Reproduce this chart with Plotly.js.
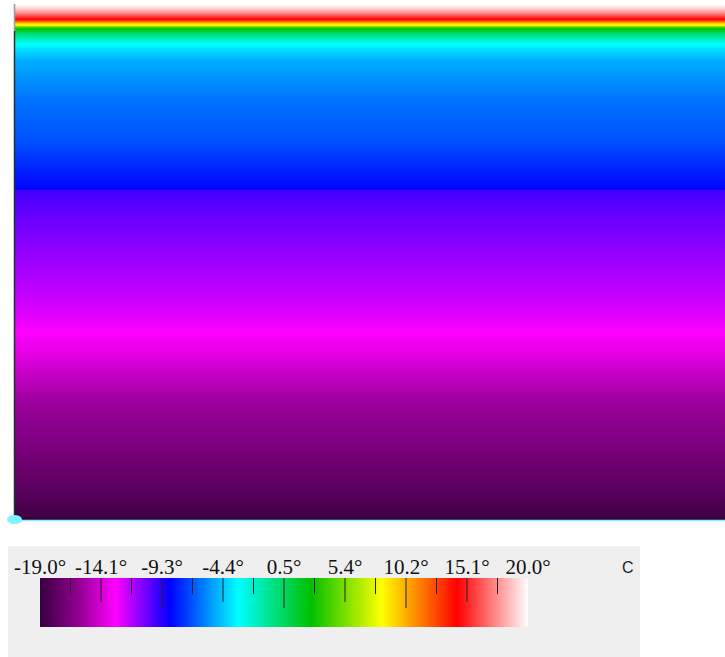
<!DOCTYPE html>
<html>
<head>
<meta charset="utf-8">
<script src="https://cdn.plot.ly/plotly-3.0.1.min.js"></script>
<style>html,body{margin:0;padding:0;background:#fff;}#chart{width:725px;height:657px;}</style>
</head>
<body>
<div id="chart"></div>
<script>
// Temperature profile (depth from top surface, arbitrary units) and temperature in °C
var depth = [0, 4, 8, 12, 15, 17, 19, 20.5, 22, 24, 26, 29, 34, 40, 48, 56, 76, 96, 136, 161, 184.5, 186, 216, 246, 296, 328, 346, 396, 446, 496, 516];
var tempC = [20.0, 19.0, 17.6, 15.8, 14.2, 12.0, 9.5, 8.0, 5.5, 3.0, 1.8, 0.0, -1.6, -3.2, -4.2, -4.9, -5.6, -6.2, -6.9, -7.8, -8.6, -9.8, -10.5, -11.1, -12.1, -13.0, -13.6, -15.6, -16.8, -18.2, -19.0];
var columns = [0, 1];

// Colour scale limits and tick values
var scaleMin = -19.0;
var scaleMax = 20.0;
var tickValues = [-19.0, -14.125, -9.25, -4.375, 0.5, 5.375, 10.25, 15.125, 20.0];
var tickLabels = ["-19.0°", "-14.1°", "-9.3°", "-4.4°", "0.5°", "5.4°", "10.2°", "15.1°", "20.0°"];
var unitLabel = "C";

var colorscale = [
  [0.0, '#3a0040'],
  [0.0769, '#900090'],
  [0.1538, '#ff00ff'],
  [0.2654, '#0000ff'],
  [0.4051, '#00ffff'],
  [0.5538, '#00c000'],
  [0.7000, '#ffff00'],
  [0.8538, '#ff0000'],
  [1.0, '#ffffff']
];

var zMain = tempC.map(function (t) { return columns.map(function () { return t; }); });

var main = {
  type: 'heatmap', x: columns, y: depth, z: zMain,
  zmin: scaleMin, zmax: scaleMax, colorscale: colorscale,
  zsmooth: 'best', showscale: false, hoverinfo: 'skip',
  xaxis: 'x', yaxis: 'y'
};

var bar = {
  type: 'heatmap', x: [scaleMin, scaleMax], y: [0, 1],
  z: [[scaleMin, scaleMax], [scaleMin, scaleMax]],
  zmin: scaleMin, zmax: scaleMax, colorscale: colorscale,
  zsmooth: 'best', showscale: false, hoverinfo: 'skip',
  xaxis: 'x2', yaxis: 'y2'
};

var W = 725, H = 657;
function px(x) { return x / W; }
function py(y) { return (H - y) / H; }

var shapes = [];
// grey colour-bar panel
shapes.push({type: 'rect', xref: 'paper', yref: 'paper', x0: px(8), x1: px(640), y0: 0, y1: py(546),
  fillcolor: '#efefef', line: {width: 0}, layer: 'below'});
// tick marks inside the colour bar: long / medium / short
var step = tickValues[1] - tickValues[0];
tickValues.forEach(function (v, i) {
  if (i > 0 && i < tickValues.length - 1) {
    var len = (i % 2 === 0) ? 0.61 : 0.49;
    shapes.push({type: 'line', xref: 'x2', yref: 'y2', x0: v, x1: v, y0: 1, y1: 1 - len,
      line: {color: '#222', width: 1}});
  }
  if (i < tickValues.length - 1) {
    var m = v + step / 2;
    shapes.push({type: 'line', xref: 'x2', yref: 'y2', x0: m, x1: m, y0: 1, y1: 1 - 0.33,
      line: {color: '#222', width: 1}});
  }
});
// left axis line
shapes.push({type: 'line', xref: 'paper', yref: 'paper', x0: px(14.5), x1: px(14.5), y0: py(31), y1: py(4),
  line: {color: '#9a9a9a', width: 1.5}});
shapes.push({type: 'line', xref: 'paper', yref: 'paper', x0: px(14.5), x1: px(14.5), y0: py(520), y1: py(31),
  line: {color: '#1e3236', width: 1.5}});
// bottom line and marker
shapes.push({type: 'line', xref: 'paper', yref: 'paper', x0: px(14), x1: 1, y0: py(520.5), y1: py(520.5),
  line: {color: '#7ff3ff', width: 1.5}});
shapes.push({type: 'circle', xref: 'paper', yref: 'paper', x0: px(7), x1: px(22), y0: py(524), y1: py(515),
  fillcolor: '#7ff3ff', line: {width: 0}});

var layout = {
  width: W, height: H,
  margin: {l: 0, r: 0, t: 0, b: 0},
  paper_bgcolor: '#ffffff', plot_bgcolor: 'rgba(0,0,0,0)',
  showlegend: false,
  xaxis: {domain: [px(14), 1], range: [-0.5, 1.5], visible: false, fixedrange: true},
  yaxis: {domain: [py(520), py(4)], range: [516, 0], visible: false, fixedrange: true},
  xaxis2: {domain: [px(40), px(528)], range: [scaleMin, scaleMax], anchor: 'y2', side: 'top',
    tickmode: 'array', tickvals: tickValues, ticktext: tickLabels, ticks: '',
    showgrid: false, zeroline: false, showline: false, ticklabelstandoff: -1,
    tickfont: {family: 'Liberation Serif, Times New Roman, serif', size: 21, color: '#111'},
    fixedrange: true},
  yaxis2: {domain: [py(627), py(578)], range: [0, 1], visible: false, fixedrange: true},
  shapes: shapes,
  annotations: [{xref: 'paper', yref: 'paper', x: px(628), y: py(567), text: unitLabel, showarrow: false,
    xanchor: 'center', yanchor: 'middle',
    font: {family: 'Liberation Sans, Arial, sans-serif', size: 16, color: '#222'}}]
};

Plotly.newPlot('chart', [main, bar], layout, {staticPlot: true, displayModeBar: false});
</script>
</body>
</html>
